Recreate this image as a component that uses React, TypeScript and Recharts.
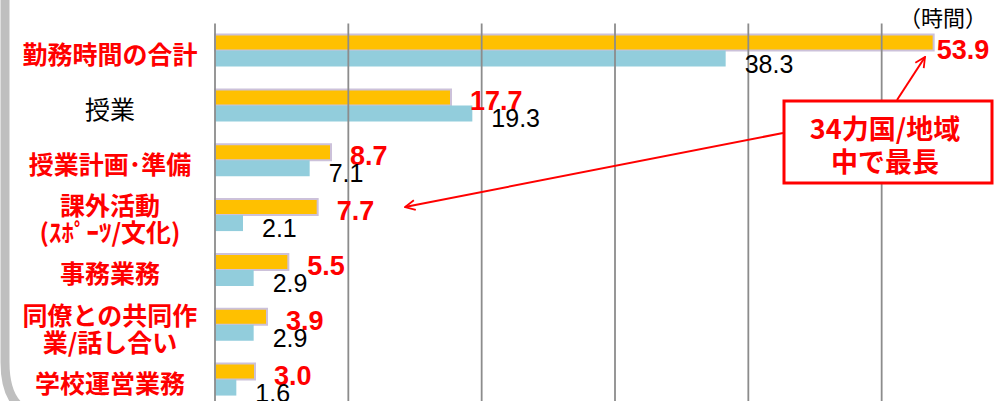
import React from 'react';
import { BarChart, Bar, XAxis, YAxis, ReferenceLine, LabelList } from 'recharts';

const categories = [
  '勤務時間の合計',
  '授業',
  '授業計画･準備',
  '課外活動\n(ｽﾎﾟｰﾂ/文化)',
  '事務業務',
  '同僚との共同作\n業/話し合い',
  '学校運営業務',
];
const japanHours = [53.9, 17.7, 8.7, 7.7, 5.5, 3.9, 3.0];
const averageHours = [38.3, 19.3, 7.1, 2.1, 2.9, 2.9, 1.6];
const xTicks = [0, 10, 20, 30, 40, 50, 60];
const blackLabels = ['授業'];

const data = categories.map((name, i) => ({
  name,
  japan: japanHours[i],
  average: averageHours[i],
}));

const RED = '#ff0000';
const JP = '"Noto Sans CJK JP", "Noto Sans", sans-serif';
const NUM = '"Liberation Sans", Arial, sans-serif';

const CategoryTick = (props: any) => {
  const { y, payload } = props;
  const lines = String(payload.value).split('\n');
  const black = blackLabels.includes(payload.value);
  const lh = 27;
  const startY = y + 2 - ((lines.length - 1) * lh) / 2;
  return (
    <text
      x={110}
      y={startY}
      textAnchor="middle"
      dominantBaseline="central"
      fontFamily={JP}
      fontSize={25}
      fontWeight={black ? 400 : 700}
      fill={black ? '#000' : RED}
    >
      {lines.map((l, i) => (
        <tspan key={i} x={110} dy={i === 0 ? 0 : lh}>
          {l}
        </tspan>
      ))}
    </text>
  );
};

const JapanLabel = (props: any) => {
  const { x, y, width, height, value, index } = props;
  const off = index === 0 ? 3 : 19;
  return (
    <text
      x={x + width + off}
      y={y + height / 2 + (index === 0 ? 7 : 4)}
      dominantBaseline="central"
      fontFamily={NUM}
      fontWeight={700}
      fontSize={27}
      fill={RED}
    >
      {Number(value).toFixed(1)}
    </text>
  );
};

const AverageLabel = (props: any) => {
  const { x, y, width, height, value } = props;
  return (
    <text
      x={x + width + 19}
      y={y + height / 2 + 5}
      dominantBaseline="central"
      fontFamily={NUM}
      fontSize={25}
      fill="#000"
    >
      {Number(value).toFixed(1)}
    </text>
  );
};

export default function App() {
  return (
    <div
      style={{
        position: 'absolute',
        left: 0,
        top: 0,
        width: 1006,
        height: 401,
        overflow: 'hidden',
        background: '#fff',
      }}
    >
      <BarChart
        width={1040}
        height={420}
        data={data}
        layout="vertical"
        margin={{ top: 23.6, right: 25, bottom: 12.6, left: 0 }}
        barGap={0}
      >
        <XAxis type="number" domain={[0, 60]} ticks={xTicks} hide />
        <YAxis
          type="category"
          dataKey="name"
          width={215}
          axisLine={false}
          tickLine={false}
          interval={0}
          tick={<CategoryTick />}
        />
        {xTicks.map((t) => (
          <ReferenceLine key={t} x={t} stroke="#8c8c8c" strokeWidth={1.8} />
        ))}
        <Bar dataKey="japan" fill="#ffc000" stroke="#ccc1da" strokeWidth={2} barSize={16} isAnimationActive={false}>
          <LabelList dataKey="japan" content={<JapanLabel />} />
        </Bar>
        <Bar dataKey="average" fill="#92cddc" barSize={16} isAnimationActive={false}>
          <LabelList dataKey="average" content={<AverageLabel />} />
        </Bar>
      </BarChart>

      <svg
        width={1006}
        height={401}
        style={{ position: 'absolute', left: 0, top: 0, pointerEvents: 'none' }}
      >
        <defs>
          <marker id="arr" markerWidth="12" markerHeight="12" refX="11" refY="6" orient="auto" markerUnits="userSpaceOnUse">
            <path d="M1,1 L11,6 L1,11" fill="none" stroke={RED} strokeWidth={1.8} />
          </marker>
        </defs>
        {/* left frame */}
        <path d="M5,0 L5,362 Q5,392 18,405" fill="none" stroke="#bfbfbf" strokeWidth={9} />
        <text x={943} y={16} textAnchor="middle" dominantBaseline="central" fontFamily={JP} fontSize={22} fill="#000">
          （時間）
        </text>
        <line x1={897} y1={100} x2={925} y2={57} stroke={RED} strokeWidth={2} markerEnd="url(#arr)" />
        <line x1={783} y1={133} x2={405} y2={207} stroke={RED} strokeWidth={2} markerEnd="url(#arr)" />
        <rect x={784} y={101} width={208} height={82} fill="#fff" stroke={RED} strokeWidth={3} />
        <text x={885} y={127} textAnchor="middle" dominantBaseline="central" fontFamily={JP} fontWeight={700} fontSize={27} fill={RED}>
          34力国/地域
        </text>
        <text x={885} y={160} textAnchor="middle" dominantBaseline="central" fontFamily={JP} fontWeight={700} fontSize={27} fill={RED}>
          中で最長
        </text>
      </svg>
    </div>
  );
}
